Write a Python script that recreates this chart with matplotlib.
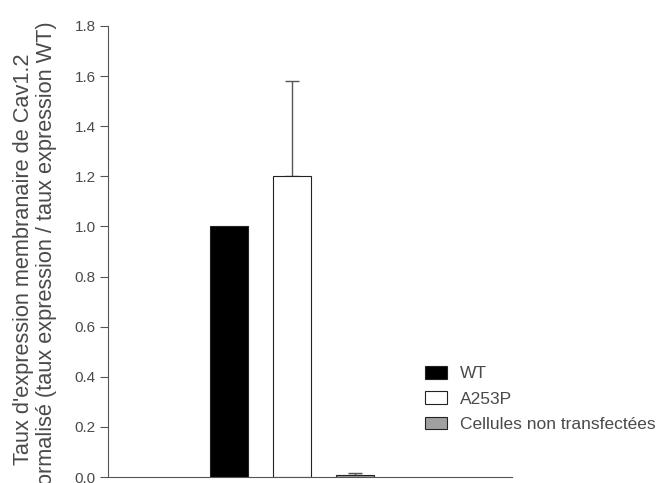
import numpy as np
import matplotlib.pyplot as plt

plt.rcParams['font.family'] = ['Liberation Sans', 'DejaVu Sans']

groups = ['WT', 'A253P', 'Cellules non transfectées']
values = [1.0, 1.2, 0.01]
errors = [0.0, 0.38, 0.006]
colors = ['black', 'white', '#a0a0a0']

yticks = [0.0, 0.2, 0.4, 0.6, 0.8, 1.0, 1.2, 1.4, 1.6, 1.8]

fig = plt.figure(figsize=(6.57, 4.83), dpi=100)
ax = fig.add_axes([0.1644, 0.0124, 0.6149, 0.9338])

txt = '#4a4a4a'
pos = np.arange(1, len(groups) + 1)
for p, v, e, c, g in zip(pos, values, errors, colors, groups):
    ax.bar(p, v, width=0.6, color=c, edgecolor='#222222', linewidth=0.8, label=g, zorder=2)
    if e > 0:
        ax.errorbar(p, v, yerr=[[0], [e]], fmt='none', ecolor='#555555',
                    elinewidth=1.0, capsize=5, capthick=1.0, zorder=1)

ax.set_xlim(-0.92, 5.49)
ax.set_ylim(0, 1.8)
ax.set_yticks(yticks)
ax.set_yticklabels(['%.1f' % t for t in yticks], color=txt, fontsize=11)
ax.set_xticks([])
ax.tick_params(axis='y', direction='out', length=6, width=0.8, color='#555555', pad=3)

for s in ['top', 'right']:
    ax.spines[s].set_visible(False)
for s in ['left', 'bottom']:
    ax.spines[s].set_color('#555555')
    ax.spines[s].set_linewidth(0.8)

fig.text(35 / 657, 1 - 259 / 483,
         "Taux d'expression membranaire de Cav1.2\nnormalisé (taux expression / taux expression WT)",
         rotation=90, ha='center', va='center', multialignment='center',
         color=txt, fontsize=15.7, linespacing=1.12)

leg = ax.legend(loc='upper left', bbox_to_anchor=(0.785, 0.246), frameon=False,
                fontsize=12.5, handlelength=1.27, handleheight=0.75, labelspacing=0.57,
                handletextpad=0.75, borderaxespad=0, borderpad=0)
for t in leg.get_texts():
    t.set_color(txt)

fig.savefig('out.png', dpi=100)
